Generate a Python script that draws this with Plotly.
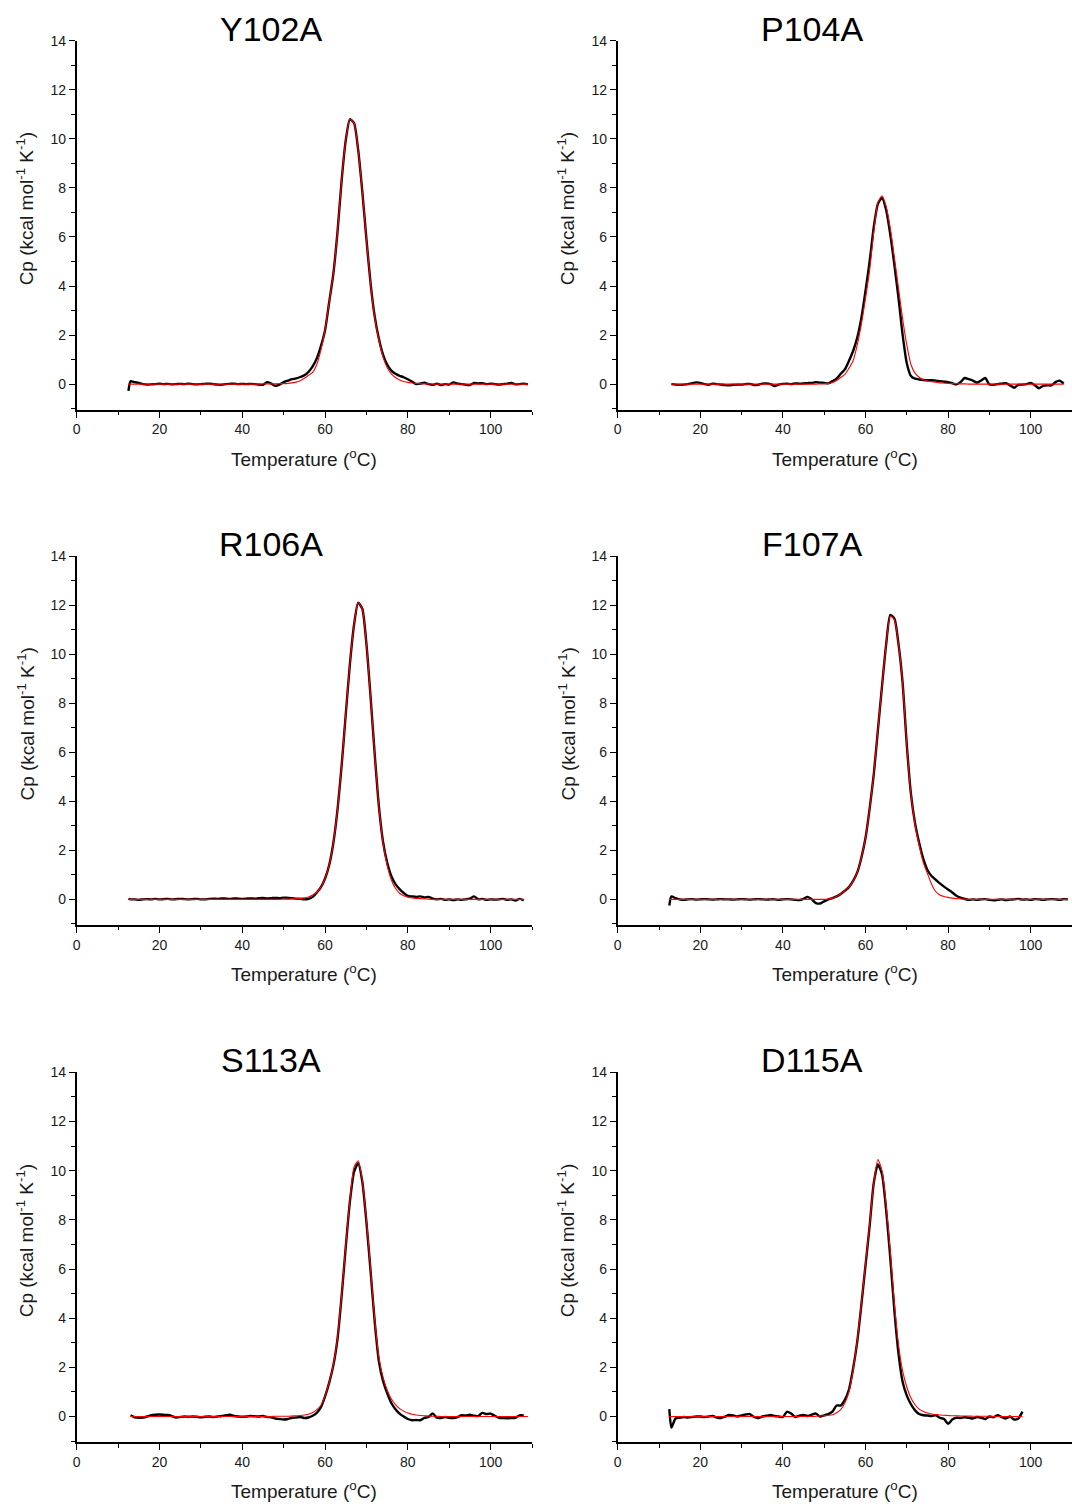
import plotly.graph_objects as go

# temperature grid (deg C) shared by all six DSC panels
TEMP = [12.5, 13, 14, 15, 16, 17, 18, 19,
        20, 21, 22, 23, 24, 25, 26, 27, 28, 29,
        30, 31, 32, 33, 34, 35, 36, 37, 38, 39,
        40, 41, 42, 43, 44, 45, 46, 47, 48, 49,
        50, 51, 52, 53, 54, 55, 56, 57, 58, 59,
        60, 61, 62, 63, 64, 65, 66, 67, 68, 69,
        70, 71, 72, 73, 74, 75, 76, 77, 78, 79,
        80, 81, 82, 83, 84, 85, 86, 87, 88, 89,
        90, 91, 92, 93, 94, 95, 96, 97, 98, 99,
        100, 101, 102, 103, 104, 105, 106, 107, 108, 109]

N = None
Z10 = [0] * 10

# ---- Y102A
Y102A_CP = [-0.28, 0.12, 0.08, 0.05, 0.00, -0.02, -0.01, 0.00,
            0.02, 0.00, 0.01, -0.01, 0.00, 0.01, 0.00, 0.02, 0.00, -0.01,
            0.00, 0.01, 0.02, 0.00, -0.02, -0.03, 0.00, 0.01, 0.02, 0.00,
            0.01, 0.00, 0.01, 0.00, -0.02, -0.03, 0.08, 0.02, -0.07, -0.02,
            0.08, 0.14, 0.20, 0.23, 0.29, 0.36, 0.50, 0.72, 1.05, 1.55,
            2.20, 3.35, 4.50, 6.20, 8.30, 9.95, 10.80, 10.65, 9.55, 7.85,
            5.90, 4.10, 2.75, 1.85, 1.20, 0.80, 0.55, 0.42, 0.34, 0.28,
            0.20, 0.10, 0.00, 0.02, 0.06, 0.00, -0.03, 0.02, -0.04, 0.00,
            -0.02, 0.07, 0.02, 0.00, -0.03, -0.04, 0.05, 0.03, 0.04, 0.00,
            0.02, 0.00, -0.02, 0.00, 0.02, 0.05, -0.01, 0.00, 0.02, -0.01]
Y102A_FIT = ([0] * 8 + Z10 + Z10 +
             [0, 0, 0, 0, 0, 0.01, 0.01, 0.01, 0.01, 0.02] +
             [0.02, 0.03, 0.05, 0.08, 0.14, 0.24, 0.36, 0.48, 0.80, 1.40] +
             [2.20, 3.35, 4.50, 6.20, 8.30, 9.95, 10.80, 10.65, 9.55, 7.85] +
             [5.90, 4.10, 2.70, 1.80, 1.10, 0.68, 0.42, 0.27, 0.17, 0.11] +
             [0.07, 0.05, 0.03, 0.02, 0.01, 0.01, 0, 0, 0, 0] +
             Z10 + Z10)

# ---- P104A
P104A_CP = [N, 0.00, -0.02, -0.03, -0.02, 0.00, 0.04, 0.07,
            0.05, 0.00, -0.03, 0.02, 0.00, -0.02, -0.04, -0.05, -0.03, -0.02,
            -0.02, 0.00, 0.01, -0.04, -0.03, 0.02, 0.03, 0.00, -0.08, -0.02,
            0.01, 0.02, 0.00, 0.03, 0.02, 0.03, 0.04, 0.05, 0.08, 0.06,
            0.05, 0.03, 0.12, 0.22, 0.42, 0.60, 0.95, 1.35, 1.90, 2.70,
            3.80, 5.00, 6.40, 7.35, 7.60, 7.10, 6.10, 4.85, 3.50, 2.00,
            0.85, 0.33, 0.22, 0.19, 0.17, 0.16, 0.16, 0.14, 0.12, 0.10,
            0.08, 0.04, -0.01, 0.08, 0.25, 0.20, 0.14, 0.06, 0.15, 0.25,
            -0.02, -0.03, 0.00, 0.02, 0.04, -0.05, -0.15, -0.03, -0.02, 0.00,
            0.05, -0.05, -0.17, -0.07, -0.05, -0.05, 0.08, 0.14, 0.02, N]
P104A_FIT = ([N, 0, 0, 0, 0, 0, 0, 0] + Z10 + Z10 +
             [0, 0, 0, 0, 0, 0, 0, 0, 0, 0.01] +
             [0.01, 0.03, 0.07, 0.15, 0.27, 0.40, 0.65, 0.95, 1.60, 2.45] +
             [3.50, 4.65, 6.20, 7.40, 7.68, 7.25, 6.35, 5.15, 3.90, 2.65] +
             [1.60, 0.80, 0.45, 0.28, 0.18, 0.13, 0.10, 0.08, 0.05, 0.04] +
             [0.03, 0.02, 0.02, 0.01, 0.01, 0, 0, 0, 0, 0] +
             Z10 + [0, 0, 0, 0, 0, 0, 0, 0, 0, N])

# ---- R106A
R106A_CP = [0.02, 0.00, 0.00, -0.02, 0.00, 0.01, 0.00, 0.02,
            0.00, 0.01, 0.02, 0.00, 0.01, 0.02, 0.01, 0.00, 0.01, 0.02,
            0.00, 0.00, 0.02, 0.03, 0.02, 0.04, 0.03, 0.02, 0.04, 0.03,
            0.02, 0.03, 0.04, 0.03, 0.05, 0.06, 0.04, 0.05, 0.06, 0.05,
            0.07, 0.06, 0.05, 0.03, 0.02, 0.00, 0.02, 0.10, 0.28, 0.50,
            0.85, 1.40, 2.30, 3.65, 5.45, 7.55, 9.60, 11.20, 12.10, 11.85,
            10.40, 8.25, 5.90, 3.80, 2.35, 1.50, 0.95, 0.62, 0.42, 0.26,
            0.14, 0.12, 0.10, 0.12, 0.08, 0.10, 0.03, 0.00, 0.02, -0.02,
            0.00, -0.03, 0.00, -0.02, 0.00, 0.03, 0.12, 0.00, 0.02, -0.02,
            0.00, -0.01, 0.00, 0.02, -0.02, 0.00, -0.05, 0.02, -0.04, N]
R106A_FIT = ([0] * 8 + Z10 + Z10 + Z10 +
             [0.01, 0.01, 0.02, 0.03, 0.04, 0.06, 0.10, 0.18, 0.30, 0.50] +
             [0.85, 1.40, 2.30, 3.65, 5.45, 7.55, 9.60, 11.20, 12.10, 11.85] +
             [10.40, 8.25, 5.90, 3.80, 2.30, 1.40, 0.80, 0.45, 0.25, 0.15] +
             [0.09, 0.06, 0.04, 0.03, 0.02, 0.01, 0, 0, 0, 0] +
             Z10 + [0, 0, 0, 0, 0, 0, 0, 0, 0, N])

# ---- F107A
F107A_CP = [-0.25, 0.12, 0.05, 0.00, -0.02, 0.00, 0.01, -0.01,
            0.00, 0.01, 0.00, -0.01, 0.00, 0.01, 0.00, 0.00, -0.01, 0.00,
            0.01, 0.00, -0.01, 0.00, 0.01, 0.00, -0.01, 0.00, 0.00, -0.02,
            0.00, 0.01, 0.00, -0.02, -0.03, 0.02, 0.10, 0.00, -0.15, -0.17,
            -0.08, 0.00, 0.05, 0.12, 0.22, 0.35, 0.50, 0.75, 1.10, 1.70,
            2.50, 3.70, 5.10, 6.90, 8.70, 10.40, 11.60, 11.45, 10.40, 8.80,
            6.30, 4.30, 3.10, 2.30, 1.65, 1.20, 0.95, 0.80, 0.65, 0.52,
            0.40, 0.28, 0.15, 0.07, 0.02, -0.02, 0.00, -0.02, 0.00, 0.01,
            -0.02, -0.04, -0.02, 0.00, -0.03, -0.01, 0.00, 0.02, -0.01, 0.00,
            -0.02, 0.01, 0.00, -0.02, 0.00, 0.01, 0.00, -0.02, 0.01, 0.00]
F107A_FIT = ([0] * 8 + Z10 + Z10 + Z10 +
             [0.00, 0.01, 0.05, 0.12, 0.22, 0.35, 0.50, 0.75, 1.10, 1.70] +
             [2.50, 3.70, 5.10, 6.90, 8.70, 10.40, 11.55, 11.40, 10.40, 8.80] +
             [6.30, 4.30, 3.05, 2.20, 1.50, 1.05, 0.62, 0.32, 0.18, 0.12] +
             [0.08, 0.05, 0.03, 0.02, 0.01, 0, 0, 0, 0, 0] +
             Z10 + Z10)

# ---- S113A
S113A_CP = [N, 0.05, -0.03, -0.05, -0.04, 0.00, 0.05, 0.07,
            0.08, 0.07, 0.06, 0.02, -0.04, -0.02, 0.00, -0.01, 0.00, -0.01,
            -0.03, -0.01, 0.00, -0.02, 0.00, 0.02, 0.05, 0.07, 0.02, 0.00,
            -0.01, 0.00, 0.02, 0.01, 0.00, 0.02, -0.02, -0.03, -0.08, -0.10,
            -0.12, -0.10, -0.05, -0.04, -0.02, -0.06, -0.04, 0.03, 0.15, 0.38,
            0.82, 1.38, 2.08, 3.15, 4.90, 6.90, 8.75, 9.95, 10.30, 9.55,
            7.90, 5.90, 3.85, 2.25, 1.45, 0.95, 0.55, 0.30, 0.12, 0.00,
            -0.10, -0.15, -0.14, -0.15, -0.05, -0.02, 0.13, -0.05, -0.06, -0.02,
            -0.05, -0.06, -0.02, 0.05, 0.04, 0.07, 0.03, 0.02, 0.15, 0.10,
            0.12, 0.03, -0.05, -0.06, -0.07, -0.06, -0.05, 0.05, 0.04, N]
S113A_FIT = ([N, 0, 0, 0, 0, 0, 0, 0] + Z10 + Z10 +
             [0, 0, 0, 0, 0, 0, 0, 0, 0.01, 0.01] +
             [0.01, 0.01, 0.02, 0.03, 0.04, 0.06, 0.09, 0.16, 0.28, 0.45] +
             [0.85, 1.40, 2.10, 3.20, 4.95, 6.95, 8.80, 10.15, 10.40, 9.60] +
             [8.00, 6.00, 3.95, 2.40, 1.60, 1.08, 0.72, 0.48, 0.32, 0.22] +
             [0.14, 0.09, 0.06, 0.04, 0.03, 0.02, 0.01, 0.01, 0, 0] +
             Z10 + Z10)

# ---- D115A
D115A_CP = [0.30, -0.45, -0.08, -0.05, -0.02, -0.04, -0.02, 0.00,
            0.00, -0.02, 0.00, 0.02, -0.04, -0.06, 0.00, 0.06, 0.04, 0.00,
            0.05, 0.08, 0.10, -0.02, -0.06, 0.00, 0.03, 0.06, 0.02, 0.00,
            -0.02, 0.20, 0.12, -0.02, 0.03, 0.06, 0.02, 0.08, 0.12, 0.00,
            0.05, 0.10, 0.20, 0.45, 0.45, 0.68, 1.10, 1.95, 3.05, 4.55,
            6.15, 7.75, 9.50, 10.25, 9.85, 8.40, 6.45, 4.30, 2.55, 1.40,
            0.85, 0.50, 0.25, 0.10, 0.05, 0.04, 0.02, 0.05, -0.05, -0.10,
            -0.30, -0.12, -0.05, -0.06, -0.03, -0.05, -0.08, -0.02, -0.05, -0.10,
            0.00, -0.03, 0.05, -0.02, -0.08, 0.00, -0.12, -0.08, 0.20, N,
            N, N, N, N, N, N, N, N, N, N]
D115A_FIT = ([0] * 8 + Z10 + Z10 +
             [0, 0, 0, 0, 0, 0, 0, 0, 0.01, 0.02] +
             [0.03, 0.05, 0.07, 0.15, 0.28, 0.55, 1.00, 1.90, 3.10, 4.60] +
             [6.20, 7.80, 9.50, 10.45, 10.00, 8.60, 6.70, 4.60, 2.90, 1.85] +
             [1.20, 0.75, 0.48, 0.30, 0.20, 0.14, 0.10, 0.08, 0.06, 0.05] +
             [0.04, 0.03, 0.03, 0.02, 0.02, 0.02, 0.01, 0.01, 0.01, 0.01] +
             [0.01, 0, 0, 0, 0, 0, 0, 0, 0, N] + [N] * 10)

PANELS = [("Y102A", Y102A_CP, Y102A_FIT), ("P104A", P104A_CP, P104A_FIT),
          ("R106A", R106A_CP, R106A_FIT), ("F107A", F107A_CP, F107A_FIT),
          ("S113A", S113A_CP, S113A_FIT), ("D115A", D115A_CP, D115A_FIT)]

for name, cp, fit in PANELS:
    assert len(cp) == len(TEMP) and len(fit) == len(TEMP), name

W, H = 1072, 1506
FONT = "Arial, 'Liberation Sans', sans-serif"
INK = "#1a1a1a"
# plot boxes in pixels
COLS = [(73, 530), (616, 1072)]
ROWS = [(33, 404), (551, 922), (1070, 1442)]

fig = go.Figure()
layout = {}
notes = []
for i, (name, cp, fit) in enumerate(PANELS):
    r, c = divmod(i, 2)
    n = "" if i == 0 else str(i + 1)
    fig.add_trace(go.Scatter(x=TEMP, y=cp, mode="lines", xaxis="x" + n, yaxis="y" + n,
                             line=dict(color="black", width=2.4, shape="spline", smoothing=0.6),
                             hoverinfo="skip"))
    fig.add_trace(go.Scatter(x=TEMP, y=fit, mode="lines", xaxis="x" + n, yaxis="y" + n,
                             line=dict(color="#ff0000", width=1.1, shape="spline", smoothing=0.6),
                             hoverinfo="skip"))
    x0, x1 = COLS[c]
    t0, t1 = ROWS[r]
    common = dict(showline=True, linecolor="black", linewidth=1.6, ticks="outside",
                  ticklen=6, tickwidth=1.4, tickcolor="black", showgrid=False,
                  zeroline=False, tickfont=dict(family=FONT, size=14, color=INK))
    layout["xaxis" + n] = dict(common, domain=[x0 / W, x1 / W], anchor="y" + n,
                               range=[0, 110], tick0=0, dtick=20,
                               minor=dict(dtick=10, ticklen=3.5, tickwidth=1.2,
                                          tickcolor="black", ticks="outside"))
    layout["yaxis" + n] = dict(common, domain=[1 - t1 / H, 1 - t0 / H], anchor="x" + n,
                               range=[-1.05, 14], tick0=0, dtick=2,
                               minor=dict(dtick=1, ticklen=3.5, tickwidth=1.2,
                                          tickcolor="black", ticks="outside"))
    mid = (x0 + x1) / 2
    notes.append(dict(text=name, x=(mid - 33) / W, y=1 - (t0 - 12) / H, xref="paper",
                      yref="paper", showarrow=False, xanchor="center", yanchor="middle",
                      font=dict(family=FONT, size=34, color="black")))
    notes.append(dict(text="Temperature (<sup>o</sup>C)", x=mid / W, y=1 - (t1 + 48) / H,
                      xref="paper", yref="paper", showarrow=False, xanchor="center",
                      yanchor="middle", font=dict(family=FONT, size=19, color=INK)))
    notes.append(dict(text="Cp (kcal mol<sup>-1</sup> K<sup>-1</sup>)", x=(x0 - 51) / W,
                      y=1 - ((t0 + t1) / 2 - 17) / H, xref="paper", yref="paper",
                      showarrow=False, textangle=-90, xanchor="center", yanchor="middle",
                      font=dict(family=FONT, size=19, color=INK)))

fig.update_layout(width=W, height=H, margin=dict(l=0, r=0, t=0, b=0),
                  showlegend=False, plot_bgcolor="white", paper_bgcolor="white",
                  annotations=notes, **layout)
# drop the default 8px page margin so the figure sits at the window origin
fig.write_html("out.html", config={"displayModeBar": False},
               post_script="document.body.style.margin='0';")
